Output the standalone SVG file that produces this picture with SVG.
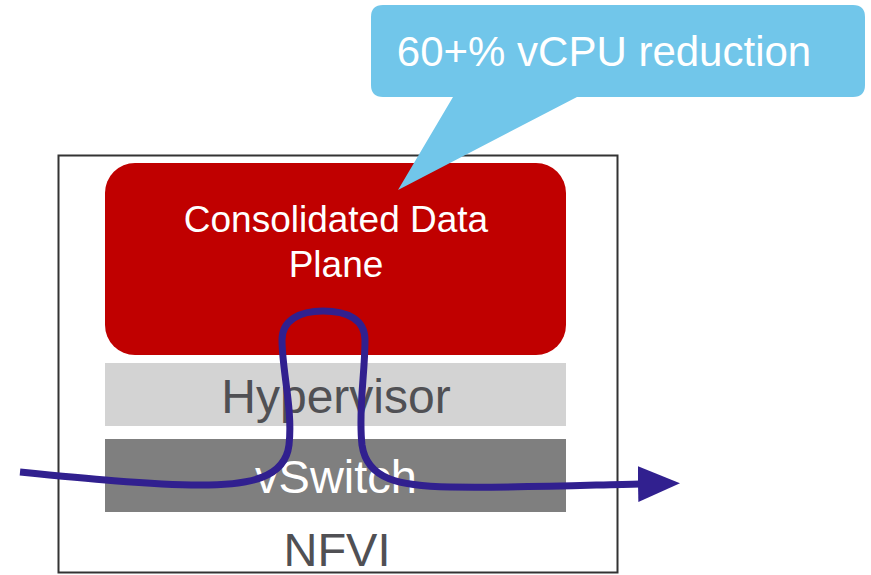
<svg xmlns="http://www.w3.org/2000/svg" width="871" height="575" viewBox="0 0 871 575">
<style>
text{font-family:"Liberation Sans",Arial,sans-serif;text-anchor:middle}
.w{fill:#ffffff}
.g{fill:#505054}
</style>
<defs>
<marker id="ah" markerUnits="userSpaceOnUse" markerWidth="44" markerHeight="40" refX="2" refY="20" orient="auto">
<path d="M0,2 L42,20 L0,38 Z" fill="#31208F"/>
</marker>
</defs>
<rect width="871" height="575" fill="#ffffff"/>
<g id="nfvi">
<rect x="58.5" y="155.5" width="559" height="417" fill="#ffffff" stroke="#333333" stroke-width="2"/>
<text x="337" y="566" font-size="47" class="g">NFVI</text>
</g>
<g id="dataplane">
<rect x="105" y="163" width="461" height="192" rx="30" fill="#C00000"/>
<text x="336" y="232" font-size="37" class="w">Consolidated Data</text>
<text x="336" y="277" font-size="37" class="w">Plane</text>
</g>
<g id="hypervisor">
<rect x="105" y="363" width="461" height="63" fill="#D3D3D3"/>
<text x="336" y="413" font-size="48" class="g">Hypervisor</text>
</g>
<g id="vswitch">
<rect x="105" y="439" width="461" height="73" fill="#7F7F7F"/>
<text x="336" y="493" font-size="47" class="w">vSwitch</text>
</g>
<g id="callout">
<path d="M383,5 H853 Q865,5 865,17 V85 Q865,97 853,97 H577 L398,190 L453,97 H383 Q371,97 371,85 V17 Q371,5 383,5 Z" fill="#71C6EA"/>
<text x="604" y="66" font-size="42" class="w">60+% vCPU reduction</text>
</g>
<g id="connectors">
<path d="M20,472 C80,478 150,485 200,485 C250,485 285,478 289,445 C293,410 282,370 282,340 C282,320 300,311 323,311 C348,311 365,320 365,340 C365,375 358,410 362,445 C367,480 400,486 450,487 C520,488 590,485 640,484" fill="none" stroke="#31208F" stroke-width="7" stroke-linecap="butt" marker-end="url(#ah)"/>
</g>
</svg>
